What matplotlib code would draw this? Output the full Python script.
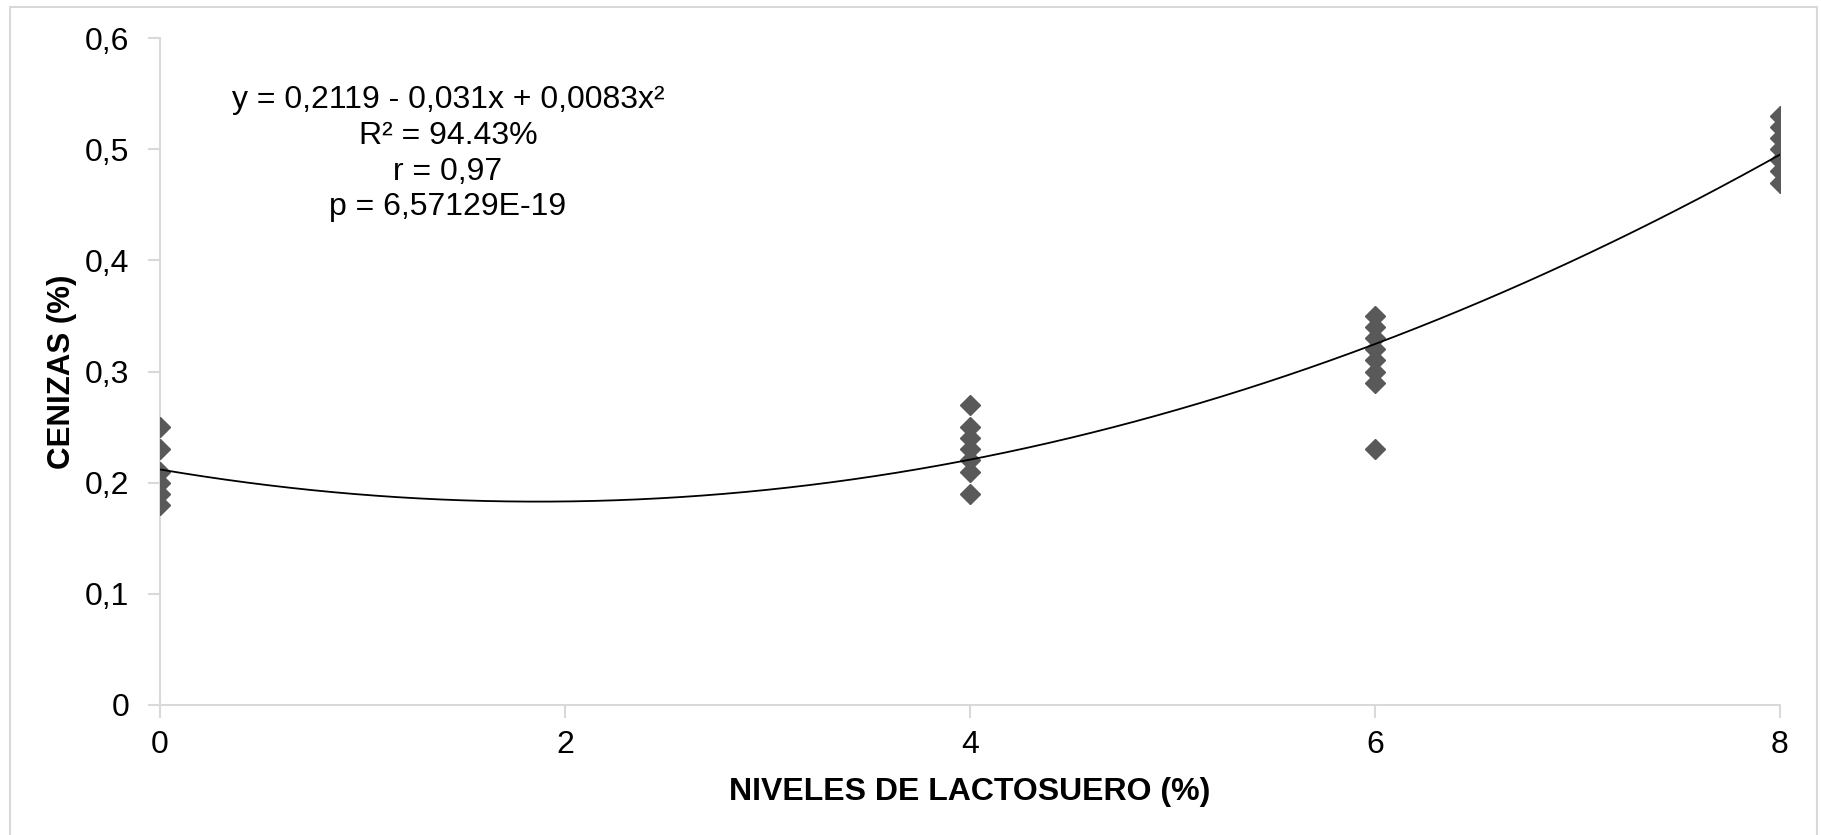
import matplotlib
matplotlib.use("Agg")
import matplotlib.pyplot as plt
import matplotlib.patches as patches
import numpy as np

plt.rcParams['font.family'] = ['Liberation Sans', 'DejaVu Sans']

# whey level groups and measured ash values
x0 = [0, 0, 0, 0, 0, 0]
y0 = [0.25, 0.23, 0.21, 0.20, 0.19, 0.18]
x4 = [4, 4, 4, 4, 4, 4, 4]
y4 = [0.27, 0.25, 0.24, 0.23, 0.22, 0.21, 0.19]
x6 = [6, 6, 6, 6, 6, 6, 6, 6]
y6 = [0.35, 0.34, 0.33, 0.32, 0.31, 0.30, 0.29, 0.23]
x8 = [8, 8, 8, 8, 8, 8, 8]
y8 = [0.53, 0.52, 0.51, 0.50, 0.49, 0.48, 0.47]

# fitted quadratic: y = c0 + c1 x + c2 x^2
coef = [0.0083, -0.031, 0.2119]

x_ticks = [0, 2, 4, 6, 8]
y_ticks = [0, 0.1, 0.2, 0.3, 0.4, 0.5, 0.6]
y_ticklabels = ['0', '0,1', '0,2', '0,3', '0,4', '0,5', '0,6']

fit_text = ("y = 0,2119 - 0,031x + 0,0083x²\n"
            "R² = 94.43%\n"
            "r = 0,97\n"
            "p = 6,57129E-19")

fig = plt.figure(figsize=(18.21, 8.35), dpi=100)
ax = fig.add_axes([160 / 1821, 1 - 705 / 835, (1780 - 160) / 1821, (705 - 38) / 835])

xs = np.concatenate([x0, x4, x6, x8])
ys = np.concatenate([y0, y4, y6, y8])
ax.plot(xs, ys, linestyle='none', marker='D', ms=10, color='#595959', zorder=3)

xx = np.linspace(0, 8, 300)
ax.plot(xx, np.polyval(coef, xx), color='black', lw=1.3, zorder=4)

ax.set_xlim(0, 8)
ax.set_ylim(0, 0.6)
ax.set_xticks(x_ticks)
ax.set_yticks(y_ticks)
ax.set_yticklabels(y_ticklabels)

grey = '#d9d9d9'
for side in ['top', 'right']:
    ax.spines[side].set_visible(False)
for side in ['left', 'bottom']:
    ax.spines[side].set_color(grey)
    ax.spines[side].set_linewidth(1.5)
ax.tick_params(axis='both', colors=grey, length=9, width=1.5, labelsize=23,
               labelcolor='black')
ax.tick_params(axis='x', pad=9)
ax.tick_params(axis='y', pad=13)

ax.set_xlabel('NIVELES DE LACTOSUERO (%)', fontsize=23, fontweight='bold', labelpad=12)
ax.set_ylabel('CENIZAS (%)', fontsize=22.5, fontweight='bold', labelpad=6)

fig.text(448 / 1821, 1 - 85 / 835, fit_text, ha='center', va='top', fontsize=23,
         linespacing=1.25)

fig.patches.append(patches.Rectangle((10 / 1821, -0.05), (1817 - 10) / 1821, 1.05 - 7 / 835,
                                     transform=fig.transFigure, fill=False,
                                     edgecolor=grey, lw=1.5))

fig.savefig('out.png', dpi=100)
